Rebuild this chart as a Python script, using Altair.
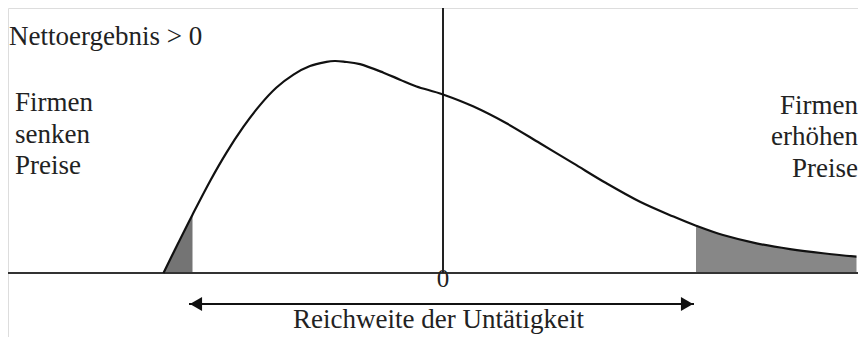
import altair as alt
import pandas as pd

# Density curve (x: Nettoergebnis, 0 at the vertical line; y: density)
curve_x = [-5.59, -5.30, -5.01, -4.66, -4.33, -3.99, -3.66, -3.33, -2.99, -2.66,
           -2.33, -2.16, -1.99, -1.66, -1.19, -0.86, -0.53, 0.0, 0.60, 1.27, 1.94, 2.61, 3.27,
           3.94, 4.61, 5.06, 5.60, 6.27, 6.94, 7.60, 8.27]
curve_y = [0.0, 0.139, 0.275, 0.433, 0.568, 0.690, 0.792, 0.875, 0.936, 0.976,
           0.996, 1.0, 0.997, 0.985, 0.945, 0.912, 0.880, 0.842, 0.786, 0.706, 0.612, 0.517,
           0.423, 0.336, 0.266, 0.223, 0.179, 0.140, 0.113, 0.093, 0.077]

left_cut = -5.01      # upper end of the "Firmen senken Preise" tail
right_cut = 5.06      # lower end of the "Firmen erhöhen Preise" tail
range_lo = -5.08      # "Reichweite der Untätigkeit" arrow
range_hi = 5.02

x_domain = [-8.7, 8.3]
y_domain = [-0.3019, 1.25]

left_text = ["Nettoergebnis > 0", "Firmen", "senken", "Preise"]
left_tx = [-8.68, -8.56, -8.56, -8.56]
left_ty = [1.075, 0.766, 0.615, 0.467]

right_text = ["Firmen", "erhöhen", "Preise"]
right_tx = [8.3, 8.3, 8.3]
right_ty = [0.752, 0.604, 0.455]

FONT = "Liberation Serif"
FS = 27
INTERP = "cardinal"

df = pd.DataFrame({"x": curve_x, "y": curve_y})
X = alt.X("x:Q", scale=alt.Scale(domain=x_domain, nice=False, zero=False), axis=None)
Y = alt.Y("y:Q", scale=alt.Scale(domain=y_domain, nice=False, zero=False), axis=None)

base = alt.Chart(df)
shade_left = base.mark_area(color="#747474", interpolate=INTERP).encode(x=X, y=Y).transform_filter(
    alt.datum.x <= left_cut)
shade_right = base.mark_area(color="#878787", interpolate=INTERP).encode(x=X, y=Y).transform_filter(
    alt.datum.x >= right_cut)
curve = base.mark_line(color="#111111", strokeWidth=2.2, interpolate=INTERP).encode(x=X, y=Y)

baseline = alt.Chart(pd.DataFrame({"y": [0.0]})).mark_rule(color="#333333", strokeWidth=2).encode(y=Y)
vline = alt.Chart(pd.DataFrame({"x": [0.0], "y": [0.0], "y2": [y_domain[1]]})).mark_rule(
    color="#222222", strokeWidth=2).encode(x=X, y=Y, y2="y2:Q")

zero_lbl = alt.Chart(pd.DataFrame({"x": [0.0], "y": [-0.066], "t": ["0"]})).mark_text(
    font=FONT, fontSize=25, color="#222222", align="center", baseline="alphabetic").encode(
    x=X, y=Y, text="t:N")

arrow_y = -0.146
arrow_line = alt.Chart(pd.DataFrame({"x": [range_lo], "x2": [range_hi], "y": [arrow_y]})).mark_rule(
    color="#111111", strokeWidth=2).encode(x=X, x2="x2:Q", y=Y)
head_l = alt.Chart(pd.DataFrame({"x": [range_lo], "y": [arrow_y]})).mark_point(
    shape="triangle-left", filled=True, size=196, color="#111111", opacity=1, xOffset=7).encode(x=X, y=Y)
head_r = alt.Chart(pd.DataFrame({"x": [range_hi], "y": [arrow_y]})).mark_point(
    shape="triangle-right", filled=True, size=196, color="#111111", opacity=1, xOffset=-7).encode(x=X, y=Y)
range_lbl = alt.Chart(pd.DataFrame({"x": [-0.09], "y": [-0.259], "t": ["Reichweite der Untätigkeit"]})).mark_text(
    font=FONT, fontSize=FS, color="#222222", align="center", baseline="alphabetic").encode(
    x=X, y=Y, text="t:N")

lt = alt.Chart(pd.DataFrame({"x": left_tx, "y": left_ty, "t": left_text})).mark_text(
    font=FONT, fontSize=FS, color="#222222", align="left", baseline="alphabetic").encode(
    x=X, y=Y, text="t:N")
rt = alt.Chart(pd.DataFrame({"x": right_tx, "y": right_ty, "t": right_text})).mark_text(
    font=FONT, fontSize=FS, color="#222222", align="right", baseline="alphabetic").encode(
    x=X, y=Y, text="t:N")

chart = alt.layer(
    shade_left, shade_right, baseline, vline, curve, zero_lbl,
    arrow_line, head_l, head_r, range_lbl, lt, rt
).properties(
    width=850, height=329, padding=0,
    autosize=alt.AutoSizeParams(type="none")
).configure_view(strokeWidth=0, stroke="transparent").configure(background="white")

chart.save("out.html", embed_options={"renderer": "svg", "actions": False})
